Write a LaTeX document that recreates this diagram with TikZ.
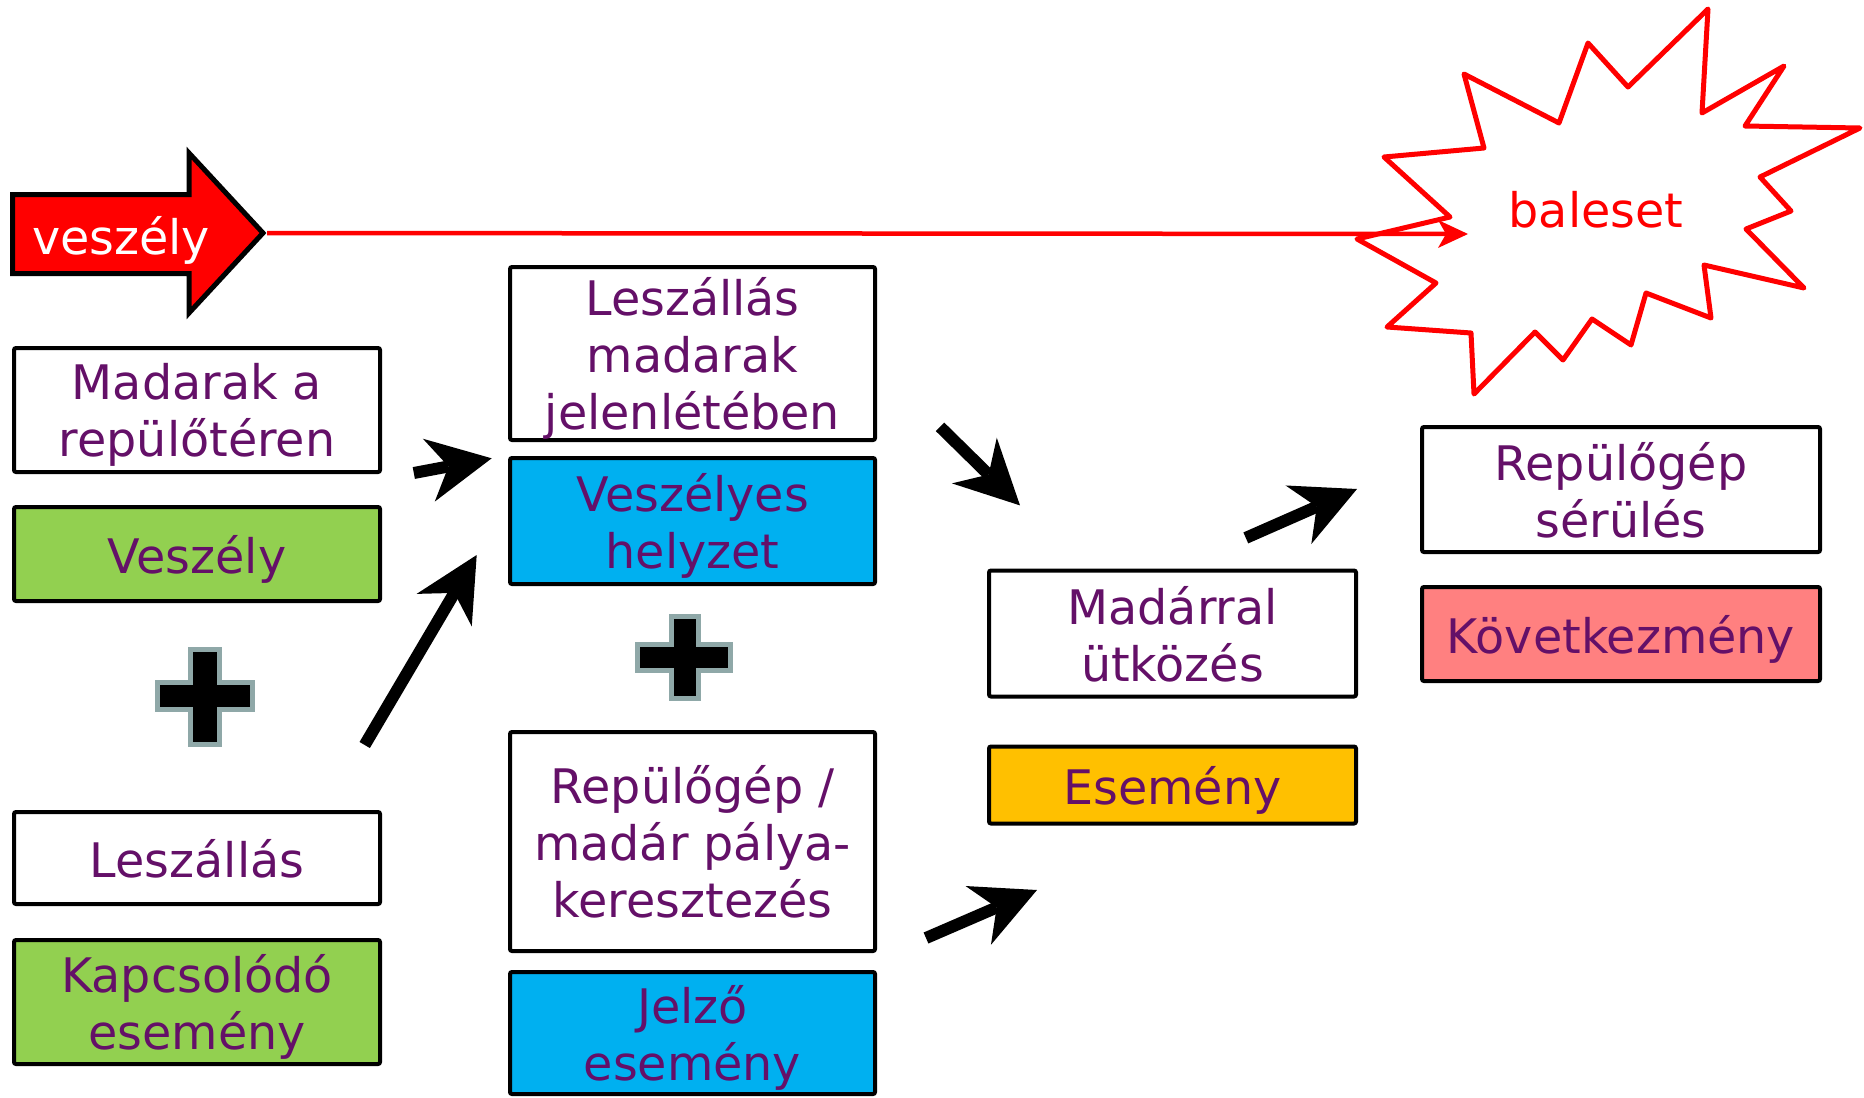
\documentclass[tikz,border=0pt]{standalone}
\usepackage{fontspec}
\setmainfont{DejaVu Sans}
\usetikzlibrary{arrows.meta}

\definecolor{txtpurple}{RGB}{100,16,104}
\definecolor{hazgreen}{RGB}{146,208,80}
\definecolor{sitblue}{RGB}{0,176,240}
\definecolor{evtgold}{RGB}{255,192,0}
\definecolor{conspink}{RGB}{255,128,128}
\definecolor{plusgrey}{RGB}{143,168,168}

\begin{document}
\begin{tikzpicture}[x=0.5pt,y=-0.5pt,
  every node/.style={font=\fontsize{23.8}{28.5}\selectfont},
  box/.style={draw=black, line width=2pt, rounded corners=1pt, fill=white,
    text=txtpurple, align=center, inner sep=0pt, text depth=0pt},
  colA/.style={box, minimum width=183pt},
  colB/.style={box, minimum width=182.5pt},
  colC/.style={box, minimum width=183.5pt},
  colD/.style={box, minimum width=199pt},
  plusmark/.style={draw=plusgrey, fill=black, line width=2.5pt, line join=miter},
  bigarrow/.style={draw=black, line width=6pt,
    -{Stealth[length=32pt, width=32pt, inset=10pt, line width=0pt]}},
  redline/.style={draw=red, line width=2.25pt,
    -{Stealth[length=15pt, width=14pt, inset=4pt, line width=0pt]}},
  burst/.style={draw=red, line width=2.5pt, line join=round}
]
\useasboundingbox (0,0) rectangle (1864,1098);

% hazard block arrow
\draw[fill=red, draw=black, line width=2.5pt, line join=miter]
  (12.5,194.5) -- (189,194.5) -- (189,153) -- (263,233) -- (189,313)
  -- (189,273.5) -- (12.5,273.5) -- cycle;
\node[text=white, inner sep=0pt] (vesz) at (121,240) {veszély};
\coordinate (vtip) at (267,233);

% accident starburst
\draw[burst] (1708,9) -- (1702,113) -- (1784,66) -- (1745,126) -- (1860,128)
  -- (1760,177) -- (1791,211) -- (1746,229) -- (1804,288) -- (1704,265)
  -- (1711,318) -- (1646,293) -- (1631,345) -- (1592,319) -- (1563,360)
  -- (1535,332) -- (1474,394) -- (1471,333) -- (1387,327) -- (1436,283)
  -- (1357,239) -- (1450,217) -- (1384,157) -- (1484,148) -- (1464,74)
  -- (1559,123) -- (1588,43) -- (1628,87) -- cycle;
\node[text=red, inner sep=0pt] (bal) at (1596,210) {baleset};
\coordinate (btip) at (1468,234);
\draw[redline] (vtip) -- (btip);

% column 1
\node[colA, minimum height=62pt] (b1) at (197,410) {Madarak a\\repülőtéren};
\node[colA, minimum height=47pt, fill=hazgreen] (b2) at (197,554) {Veszély};
\node[colA, minimum height=46pt] (b3) at (197,858) {Leszállás};
\node[colA, minimum height=62pt, fill=hazgreen] (b4) at (197,1002) {Kapcsolódó\\esemény};

% column 2
\node[colB, minimum height=86.5pt] (c1) at (692.5,353.5) {Leszállás\\madarak\\jelenlétében};
\node[colB, minimum height=63pt, fill=sitblue] (c2) at (692.5,521) {Veszélyes\\helyzet};
\node[colB, minimum height=109.5pt] (c3) at (692.5,841.5) {Repülőgép /\\madár pálya-\\keresztezés};
\node[colB, minimum height=61pt, fill=sitblue] (c4) at (692.5,1033) {Jelző\\esemény};

% column 3
\node[colC, minimum height=63pt] (d1) at (1172.5,633.5) {Madárral\\ütközés};
\node[colC, minimum height=38.5pt, fill=evtgold] (d2) at (1172.5,785) {Esemény};

% column 4
\node[colD, minimum height=62.5pt] (e1) at (1621,489.5) {Repülőgép\\sérülés};
\node[colD, minimum height=47pt, fill=conspink] (e2) at (1621,634) {Következmény};

% plus signs
\draw[plusmark] (190.5,649.5) -- (219.5,649.5) -- (219.5,682.5) -- (252.5,682.5)
  -- (252.5,709.5) -- (219.5,709.5) -- (219.5,744.5) -- (190.5,744.5)
  -- (190.5,709.5) -- (157.5,709.5) -- (157.5,682.5) -- (190.5,682.5) -- cycle;
\draw[plusmark] (671.5,616.5) -- (698.5,616.5) -- (698.5,644.5) -- (730.5,644.5)
  -- (730.5,670.5) -- (698.5,670.5) -- (698.5,698.5) -- (671.5,698.5)
  -- (671.5,670.5) -- (637.5,670.5) -- (637.5,644.5) -- (671.5,644.5) -- cycle;

% flow arrows
\coordinate (a1s) at (413.8,473);   \coordinate (a1e) at (491.7,458.3);
\coordinate (a2s) at (364.7,745);   \coordinate (a2e) at (476.7,555);
\coordinate (a3s) at (940,426.8);   \coordinate (a3e) at (1020,505.4);
\coordinate (a4s) at (1245.8,537.9);\coordinate (a4e) at (1357,489);
\coordinate (a5s) at (926,938);     \coordinate (a5e) at (1037,890);
\draw[bigarrow] (a1s) -- (a1e);
\draw[bigarrow] (a2s) -- (a2e);
\draw[bigarrow] (a3s) -- (a3e);
\draw[bigarrow] (a4s) -- (a4e);
\draw[bigarrow] (a5s) -- (a5e);
\end{tikzpicture}
\end{document}
